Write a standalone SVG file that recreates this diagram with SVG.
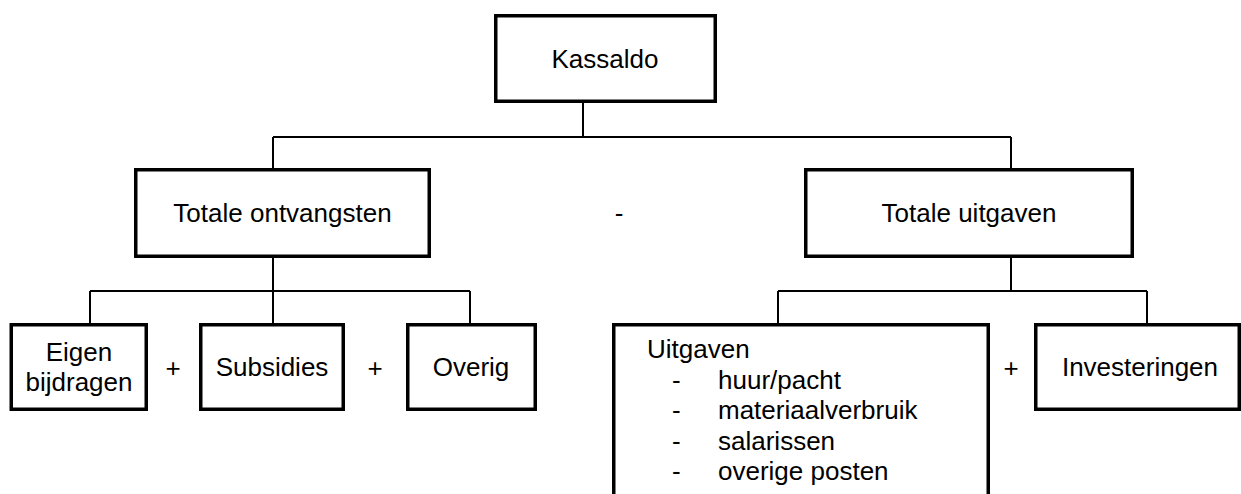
<svg xmlns="http://www.w3.org/2000/svg" width="1241" height="494" viewBox="0 0 1241 494">
<style>
.box{fill:#fff;stroke:#000;stroke-width:3.5}
.c{fill:none;stroke:#000;stroke-width:2}
text{font-family:"Liberation Sans",Arial,sans-serif;font-size:26px;fill:#000}
.m{text-anchor:middle}
</style>
<rect width="1241" height="494" fill="#fff"/>
<g id="connectors">
<path class="c" d="M583 103V137M273 137H1011M273 137V168M1011 137V168"/>
<path class="c" d="M273 258V291M90 291H470M90 291V323M273 291V323M470 291V323"/>
<path class="c" d="M1011 258V291M778 291H1147M778 291V323M1147 291V323"/>
</g>
<g id="kassaldo"><rect class="box" x="495.75" y="15.75" width="219.5" height="85.5"/><text class="m" x="605" y="68">Kassaldo</text></g>
<g id="ontvangsten"><rect class="box" x="135.75" y="169.75" width="293.5" height="86.5"/><text class="m" x="282.5" y="222">Totale ontvangsten</text></g>
<g id="minus"><text class="m" x="619" y="222">-</text></g>
<g id="uitgaven-totaal"><rect class="box" x="805.75" y="169.75" width="326.5" height="86.5"/><text class="m" x="969" y="222">Totale uitgaven</text></g>
<g id="eigen"><rect class="box" x="11.25" y="324.75" width="135" height="84.5"/><text class="m" x="79" y="361">Eigen</text><text class="m" x="79" y="391">bijdragen</text></g>
<g id="plus1"><text class="m" x="173" y="377">+</text></g>
<g id="subsidies"><rect class="box" x="200.75" y="324.75" width="142.5" height="84.5"/><text class="m" x="272" y="376">Subsidies</text></g>
<g id="plus2"><text class="m" x="375" y="377">+</text></g>
<g id="overig"><rect class="box" x="407.75" y="324.75" width="127.5" height="84.5"/><text class="m" x="471" y="376">Overig</text></g>
<g id="uitgaven"><rect class="box" x="613.75" y="324.75" width="374.5" height="200"/>
<text x="647" y="358">Uitgaven</text>
<text x="672" y="389">-</text><text x="718" y="389">huur/pacht</text>
<text x="672" y="419">-</text><text x="718" y="419">materiaalverbruik</text>
<text x="672" y="450">-</text><text x="718" y="450">salarissen</text>
<text x="672" y="480">-</text><text x="718" y="480">overige posten</text>
</g>
<g id="plus3"><text class="m" x="1011" y="377">+</text></g>
<g id="investeringen"><rect class="box" x="1035.75" y="324.75" width="203.5" height="84.5"/><text class="m" x="1140" y="376">Investeringen</text></g>
</svg>
